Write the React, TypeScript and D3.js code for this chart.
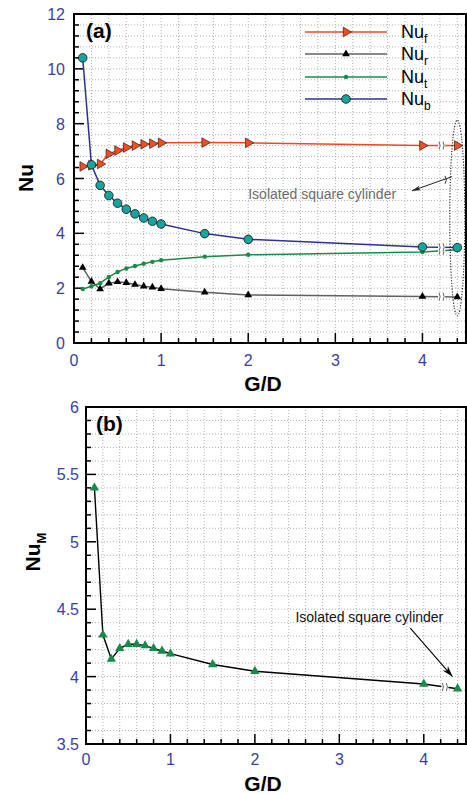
import React from 'react';
import * as d3 from 'd3';

// ---- data ----
const gd = [0.1, 0.2, 0.3, 0.4, 0.5, 0.6, 0.7, 0.8, 0.9, 1.0, 1.5, 2.0, 4.0, 4.4];
const nuF = [6.44, 6.48, 6.53, 6.9, 7.02, 7.13, 7.2, 7.25, 7.27, 7.3, 7.31, 7.3, 7.2, 7.2];
const nuR = [2.75, 2.24, 1.97, 2.18, 2.23, 2.2, 2.13, 2.07, 2.03, 1.98, 1.85, 1.75, 1.7, 1.68];
const nuT = [1.97, 2.07, 2.18, 2.41, 2.59, 2.72, 2.81, 2.89, 2.96, 3.02, 3.15, 3.22, 3.32, 3.4];
const nuB = [10.4, 6.5, 5.75, 5.38, 5.1, 4.88, 4.71, 4.56, 4.44, 4.34, 3.99, 3.78, 3.5, 3.48];
const nuM = [5.4, 4.31, 4.13, 4.21, 4.24, 4.24, 4.23, 4.21, 4.19, 4.17, 4.09, 4.04, 3.945, 3.91];

const xTicks = [0, 1, 2, 3, 4];
const yTicksA = [0, 2, 4, 6, 8, 10, 12];
const yTicksB = [3.5, 4, 4.5, 5, 5.5, 6];
const legendNames = ['f', 'r', 't', 'b'];

const BLUE_TXT = '#3a3f9e';
const FONT = '"Liberation Sans", Arial, sans-serif';

function range(a: number, b: number, s: number) {
  const out: number[] = [];
  const n = Math.round((b - a) / s);
  for (let i = 0; i <= n; i++) out.push(+(a + i * s).toFixed(6));
  return out;
}

function Frame({ x, y, xMinor, yMinor, yMajor, xMajor }: any) {
  const [x0, x1] = x.range();
  const [y0, y1] = y.range();
  return (
    <g>
      {xMinor.map((v: number, i: number) => (
        <line key={'gx' + i} x1={x(v)} x2={x(v)} y1={y0} y2={y1} stroke="#b0b0b0" strokeWidth={1} strokeDasharray="1,2" />
      ))}
      {yMinor.map((v: number, i: number) => (
        <line key={'gy' + i} x1={x0} x2={x1} y1={y(v)} y2={y(v)} stroke="#b0b0b0" strokeWidth={1} strokeDasharray="1,2" />
      ))}
      {xMinor.map((v: number, i: number) => {
        const maj = xMajor.some((m: number) => Math.abs(m - v) < 1e-6);
        return <line key={'tx' + i} x1={x(v)} x2={x(v)} y1={y0} y2={y0 - (maj ? 10 : 5)} stroke="#000" strokeWidth={1.5} />;
      })}
      {yMinor.map((v: number, i: number) => {
        const maj = yMajor.some((m: number) => Math.abs(m - v) < 1e-6);
        return <line key={'ty' + i} x1={x0} x2={x0 + (maj ? 10 : 5)} y1={y(v)} y2={y(v)} stroke="#000" strokeWidth={1.5} />;
      })}
    </g>
  );
}

function BreakMark({ cx, cy }: { cx: number; cy: number }) {
  return (
    <g>
      <rect x={cx - 3.5} y={cy - 4} width={7} height={8} fill="#fff" />
      <path d={`M${cx - 2.5},${cy - 4} Q${cx - 0.5},${cy} ${cx - 2.5},${cy + 4}`} fill="none" stroke="#555" strokeWidth={0.9} />
      <path d={`M${cx + 1.5},${cy - 4} Q${cx + 3.5},${cy} ${cx + 1.5},${cy + 4}`} fill="none" stroke="#555" strokeWidth={0.9} />
    </g>
  );
}

export default function App() {
  // Panel (a)
  const xa = d3.scaleLinear().domain([0, 4.5]).range([74, 466]);
  const ya = d3.scaleLinear().domain([0, 12]).range([343, 14]);
  // Panel (b)
  const xb = d3.scaleLinear().domain([0, 4.5]).range([86, 466]);
  const yb = d3.scaleLinear().domain([3.5, 6]).range([744, 407]);

  const lineA = (vals: number[]) =>
    d3.line<number>().x((_, i) => xa(gd[i])).y((v) => ya(v))(vals) as string;
  const lineB = d3.line<number>().x((_, i) => xb(gd[i])).y((v) => yb(v))(nuM) as string;

  const triUp = d3.symbol().type(d3.symbolTriangle).size(26)() as string;
  const triBig = d3.symbol().type(d3.symbolTriangle).size(40)() as string;
  const triB = d3.symbol().type(d3.symbolTriangle).size(38)() as string;

  const seriesA = [
    { vals: nuF, color: '#ec4a26', width: 1.5 },
    { vals: nuR, color: '#606060', width: 1.5 },
    { vals: nuT, color: '#1b8a4c', width: 1.5 },
    { vals: nuB, color: '#2e3192', width: 1.5 },
  ];

  const brkX = 4.22;
  const interp = (vals: number[], xv: number) => {
    const n = vals.length;
    const t = (xv - gd[n - 2]) / (gd[n - 1] - gd[n - 2]);
    return vals[n - 2] + t * (vals[n - 1] - vals[n - 2]);
  };

  const marker = (k: number, cx: number, cy: number, key: string) => {
    if (k === 0)
      return <path key={key} d={triBig} transform={`translate(${cx},${cy}) rotate(90)`} fill="#f04e23" stroke="#3a1a10" strokeWidth={0.7} />;
    if (k === 1) return <path key={key} d={triUp} transform={`translate(${cx},${cy})`} fill="#000" />;
    if (k === 2) return <circle key={key} cx={cx} cy={cy} r={2.2} fill="#1b8a4c" />;
    return <circle key={key} cx={cx} cy={cy} r={4.3} fill="#16a59e" stroke="#111" strokeWidth={0.8} />;
  };

  const legendY = [32, 54, 77, 99];

  // annotation anchors in data space
  const arrA = { x1: 4.34, y1: 6.07, x2: 3.88, y2: 5.55 };
  const arrB = { x1: 3.84, y1: 4.36, x2: 4.34, y2: 4.0 };

  const aArrowEnd = [xa(arrA.x2), ya(arrA.y2)];
  const aArrowStart = [xa(arrA.x1), ya(arrA.y1)];
  const bArrowStart = [xb(arrB.x1), yb(arrB.y1)];
  const bArrowEnd = [xb(arrB.x2), yb(arrB.y2)];

  const arrowHead = (from: number[], to: number[], len: number, wid: number, fill: string) => {
    const dx = to[0] - from[0], dy = to[1] - from[1];
    const L = Math.hypot(dx, dy);
    const ux = dx / L, uy = dy / L;
    const bx = to[0] - ux * len, by = to[1] - uy * len;
    const px = -uy * wid, py = ux * wid;
    return <path d={`M${to[0]},${to[1]} L${bx + px},${by + py} L${bx + ux * len * 0.3},${by + uy * len * 0.3} L${bx - px},${by - py} Z`} fill={fill} />;
  };

  return (
    <svg width={467} height={794} style={{ position: 'absolute', left: 0, top: 0, background: '#fff' }} fontFamily={FONT}>
      <rect x={0} y={0} width={467} height={794} fill="#fff" />
      {/* ===== Panel (a) ===== */}
      <Frame x={xa} y={ya} xMinor={range(0, 4.4, 0.2)} yMinor={range(0, 12, 0.4)} yMajor={yTicksA} xMajor={xTicks} />

      {seriesA.map((s, k) => (
        <path key={'la' + k} d={lineA(s.vals)} fill="none" stroke={s.color} strokeWidth={s.width} />
      ))}
      {seriesA.map((s, k) => (
        <BreakMark key={'ba' + k} cx={xa(brkX)} cy={ya(interp(s.vals, brkX))} />
      ))}
      {seriesA.map((s, k) => (
        <g key={'ma' + k}>{s.vals.map((v, i) => marker(k, xa(gd[i]), ya(v), 'm' + k + '_' + i))}</g>
      ))}

      {/* isolated cylinder ellipse */}
      <ellipse cx={xa(4.4)} cy={ya(4.56)} rx={7.5} ry={ya(0.99) - ya(4.56)} fill="none" stroke="#222" strokeWidth={1.1} strokeDasharray="1.2,1.6" />

      {/* annotation a */}
      <line x1={aArrowStart[0]} y1={aArrowStart[1]} x2={aArrowEnd[0]} y2={aArrowEnd[1]} stroke="#222" strokeWidth={1} />
      {arrowHead(aArrowStart, aArrowEnd, 9, 2.5, '#222')}
      <path d={`M${xa(4.27) - 1},${ya(5.95) - 4} Q${xa(4.27) + 2},${ya(5.95)} ${xa(4.27) - 1},${ya(5.95) + 4}`} fill="none" stroke="#222" strokeWidth={0.9} />
      <text x={xa(2.0)} y={ya(5.27)} fontSize={14} fill="#6b6b6b">Isolated square cylinder</text>

      {/* legend */}
      {legendNames.map((nm, k) => (
        <g key={'lg' + k}>
          <line x1={305} x2={387} y1={legendY[k]} y2={legendY[k]} stroke={seriesA[k].color} strokeWidth={1.5} />
          {marker(k, 346, legendY[k], 'lm' + k)}
          <text x={401} y={legendY[k] + 6} fontSize={18} fill="#000">
            Nu<tspan fontSize={12} dy={5}>{nm}</tspan>
          </text>
        </g>
      ))}

      {/* frame a */}
      <rect x={74} y={14} width={392} height={329} fill="none" stroke="#000" strokeWidth={2} />

      {/* tick labels a */}
      {yTicksA.map((v) => (
        <text key={'yla' + v} x={65} y={ya(v) + 6} fontSize={16} fill={BLUE_TXT} textAnchor="end">{v}</text>
      ))}
      {xTicks.map((v) => (
        <text key={'xla' + v} x={xa(v)} y={366} fontSize={16} fill={BLUE_TXT} textAnchor="middle">{v}</text>
      ))}
      <text x={86} y={38} fontSize={21} fontWeight="bold">(a)</text>
      <text x={263} y={391} fontSize={21} fontWeight="bold" textAnchor="middle">G/D</text>
      <text transform={`translate(33,178) rotate(-90)`} fontSize={21} fontWeight="bold" textAnchor="middle">Nu</text>

      {/* ===== Panel (b) ===== */}
      <Frame x={xb} y={yb} xMinor={range(0, 4.4, 0.2)} yMinor={range(3.5, 6, 0.1)} yMajor={yTicksB} xMajor={xTicks} />
      <path d={lineB} fill="none" stroke="#000" strokeWidth={1.4} />
      <BreakMark cx={xb(4.25)} cy={yb(interp(nuM, 4.25))} />
      {nuM.map((v, i) => (
        <path key={'mb' + i} d={triB} transform={`translate(${xb(gd[i])},${yb(v)})`} fill="#17894a" />
      ))}

      {/* annotation b */}
      <line x1={bArrowStart[0]} y1={bArrowStart[1]} x2={bArrowEnd[0]} y2={bArrowEnd[1]} stroke="#000" strokeWidth={1.1} />
      {arrowHead(bArrowStart, bArrowEnd, 11, 3.5, '#000')}
      <text x={xb(2.48)} y={yb(4.405)} fontSize={14} fill="#111">Isolated square cylinder</text>

      <rect x={86} y={407} width={380} height={337} fill="none" stroke="#000" strokeWidth={2} />

      {yTicksB.map((v) => (
        <text key={'ylb' + v} x={79} y={yb(v) + 6} fontSize={16} fill={BLUE_TXT} textAnchor="end">{String(v)}</text>
      ))}
      {xTicks.map((v) => (
        <text key={'xlb' + v} x={xb(v)} y={765} fontSize={16} fill={BLUE_TXT} textAnchor="middle">{v}</text>
      ))}
      <text x={96} y={431} fontSize={21} fontWeight="bold">(b)</text>
      <text x={263} y={791} fontSize={21} fontWeight="bold" textAnchor="middle">G/D</text>
      <text transform={`translate(40,552) rotate(-90)`} fontSize={21} fontWeight="bold" textAnchor="middle">
        Nu<tspan fontSize={13} dy={6}>M</tspan>
      </text>
    </svg>
  );
}
